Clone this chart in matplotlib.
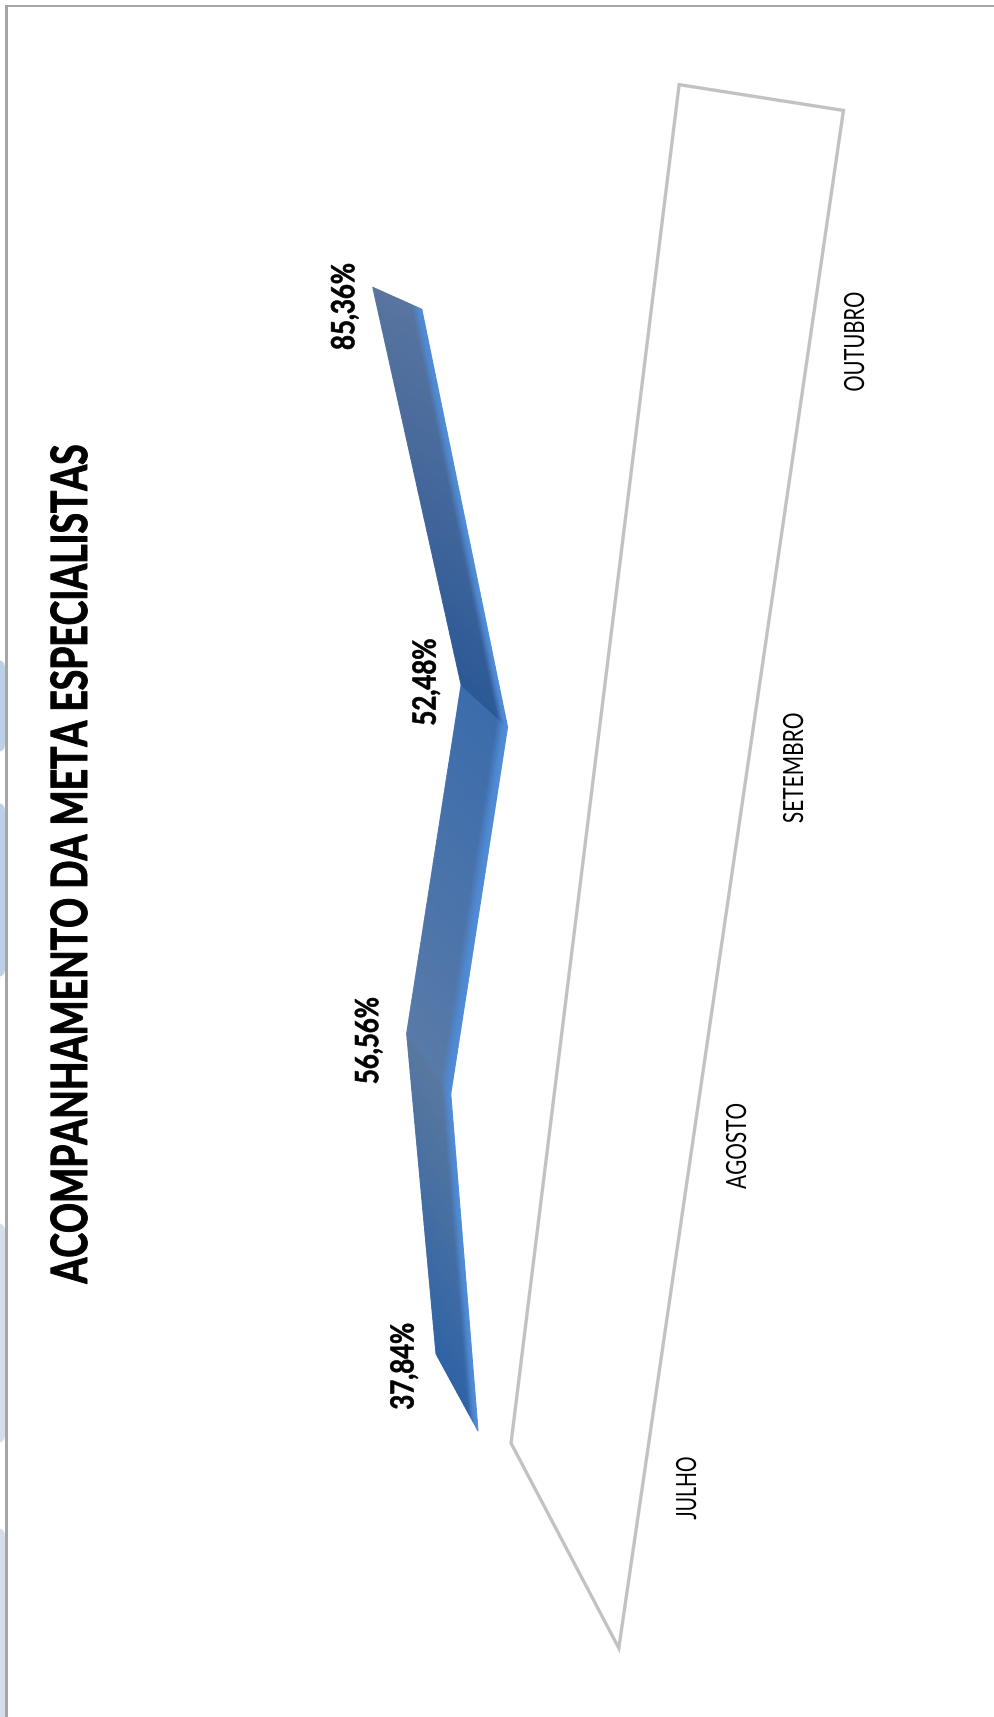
import numpy as np
import matplotlib
matplotlib.use("Agg")
import matplotlib.pyplot as plt
from matplotlib.collections import PolyCollection
from matplotlib.patches import FancyBboxPatch, Polygon, Rectangle
from matplotlib.patheffects import AbstractPathEffect
from matplotlib.transforms import Affine2D
from matplotlib.colors import to_rgb

# ---- data ----
TITLE = "ACOMPANHAMENTO DA META ESPECIALISTAS"
MONTHS = ["JULHO", "AGOSTO", "SETEMBRO", "OUTUBRO"]
VALUES = [37.84, 56.56, 52.48, 85.36]
VALUE_LABELS = ["37,84%", "56,56%", "52,48%", "85,36%"]

# ---- layout & style (pixels of the 995x1717 picture) ----
W, H = 995, 1717
VALUE_LABEL_OFFSET = [(-32, 12), (-38, 7), (-35, -3), (-28, 19)]
MONTH_LABEL_XY = [(688, 1488), (738, 1146), (795, 768), (856, 342)]
MONTH_LABEL_LEN = [62, 85, 109, 98]
VALUE_LABEL_LEN = 85
FLOOR = [(-0.47, -0.75), (3.52, -0.89), (3.50, 2.34), (-0.515, 1.83)]
BLOBS = [(660, 752, "#bdd0e6"), (803, 977, "#bdd0e6"),
         (1223, 1443, "#d6deea"), (1528, 1760, "#d6deea")]
# colours of the ribbon's face at the two ends of each segment
SEG_COLORS = [("#2f63a6", "#58789f"), ("#587aa8", "#3b6cac"), ("#2b5896", "#58749f")]
STRIP = "#4f8ad4"


def project(i, v, d):
    """Rotated 3-D perspective of the chart: month index, value, ribbon depth -> pixel."""
    w = 1 - 0.0479 * i
    x = (608.6 + 15.7 * i - 3.45 * v - 42.0 * d) / w
    y = (1439.6 - 385.1 * i - 0.228 * v + (-77.0 + 19.4 * i) * d) / w
    return x, y


class Condense(AbstractPathEffect):
    """Squeezes the glyphs of a text along its baseline to a given length in pixels."""

    def __init__(self, length, stroke=0.0):
        super().__init__()
        self.length = length
        self.stroke = stroke

    def draw_path(self, renderer, gc, tpath, affine, rgbFace=None):
        ext = tpath.get_extents()
        size = np.sqrt(abs(np.linalg.det(affine.get_matrix()[:2, :2])))
        sx = self.length / (ext.width * size)
        cx = (ext.x0 + ext.x1) / 2
        squeeze = Affine2D().translate(-cx, 0).scale(sx, 1).translate(cx, 0)
        gc0 = renderer.new_gc()
        gc0.copy_properties(gc)
        if self.stroke > 0:
            gc0.set_linewidth(self.stroke)
            gc0.set_foreground("black")
        renderer.draw_path(gc0, tpath, squeeze + affine, rgbFace)
        gc0.restore()


fig = plt.figure(figsize=(W / 100, H / 100), dpi=100)
ax = fig.add_axes([0, 0, 1, 1])
ax.set_xlim(0, W)
ax.set_ylim(H, 0)
ax.axis("off")

# background blobs at the left edge and the picture's frame
for y0, y1, c in BLOBS:
    ax.add_patch(FancyBboxPatch((-30, y0 + 8), 27, y1 - y0 - 16, boxstyle="round,pad=8,rounding_size=8",
                                fc=c, ec="none", lw=0, zorder=1))
ax.add_patch(Rectangle((5, 5), 3, H, fc="#a6a6a6", ec="none", zorder=2))
ax.add_patch(Rectangle((5, 5), W, 2.2, fc="#a6a6a6", ec="none", zorder=2))

# floor of the 3-D chart
floor_xy = [project(i, 0, d) for i, d in FLOOR]
ax.add_patch(Polygon(floor_xy, closed=True, fc="none", ec="#c2c2c2", lw=2.4, joinstyle="miter", zorder=3))

# ribbon
quads, colors = [], []
N, M = 60, 24
for s in range(len(VALUES) - 1):
    c0, c1 = np.array(to_rgb(SEG_COLORS[s][0])), np.array(to_rgb(SEG_COLORS[s][1]))
    strip = np.array(to_rgb(STRIP))
    for a in range(N):
        t0, t1 = a / N, (a + 1) / N
        i0, i1 = s + t0, s + t1
        v0 = VALUES[s] + (VALUES[s + 1] - VALUES[s]) * t0
        v1 = VALUES[s] + (VALUES[s + 1] - VALUES[s]) * t1
        base = c0 + (c1 - c0) * (t0 + t1) / 2
        for b in range(M):
            d0, d1 = b / M, (b + 1) / M
            quads.append([project(i0, v0, d0), project(i1, v1, d0),
                          project(i1, v1, d1), project(i0, v0, d1)])
            k = np.clip((0.24 - (d0 + d1) / 2) / 0.16, 0, 1)
            colors.append(base + (strip - base) * k)
ax.add_collection(PolyCollection(quads, facecolors=colors, edgecolors=colors, linewidths=0.7, zorder=4))

# texts
font = ["Lato", "DejaVu Sans"]
ax.text(72.5, 864, TITLE, rotation=90, ha="center", va="center", family=font, weight="bold",
        fontsize=36, color="black", zorder=5, path_effects=[Condense(838, stroke=0.7)])
for i, (v, lab) in enumerate(zip(VALUES, VALUE_LABELS)):
    x, y = project(i, v, 1)
    dx, dy = VALUE_LABEL_OFFSET[i]
    ax.text(x + dx, y + dy, lab, rotation=90, ha="center", va="center", family=font, weight="bold",
            fontsize=23, color="black", zorder=5, path_effects=[Condense(VALUE_LABEL_LEN, stroke=0.45)])
for (x, y), name, ln in zip(MONTH_LABEL_XY, MONTHS, MONTH_LABEL_LEN):
    ax.text(x, y, name, rotation=90, ha="center", va="center", family=font,
            fontsize=20, color="black", zorder=5, path_effects=[Condense(ln)])

fig.savefig("out.png", dpi=100, facecolor="white")
